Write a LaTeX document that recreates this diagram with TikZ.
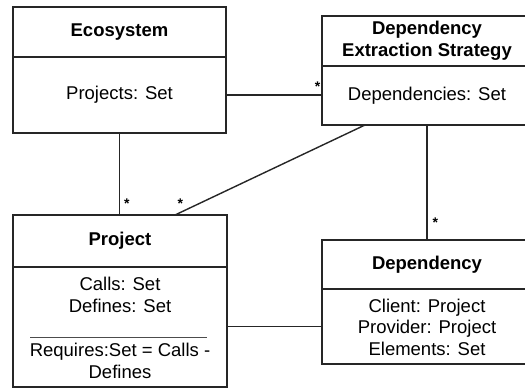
\documentclass[tikz,border=0pt]{standalone}
\usepackage{fontspec}
\setmainfont{Liberation Sans}
\usetikzlibrary{calc}

\begin{document}
\begin{tikzpicture}[x=1pt, y=-1pt,
		head_style/.style={rectangle,draw=black!85,line width=1.4pt,inner sep=0pt,outer sep=0pt,align=center,font=\fontsize{18.5}{22}\selectfont\bfseries},
		body_style/.style={rectangle,draw=black!85,line width=1.4pt,inner sep=0pt,outer sep=0pt,align=center,font=\fontsize{18.5}{21.5}\selectfont},
		text_style/.style={inner sep=0pt,align=center,anchor=base,font=\fontsize{18.5}{21.5}\selectfont},
		star_style/.style={inner sep=0pt,font=\fontsize{14}{14}\selectfont\bfseries},
		edge_style/.style={draw=black!85,line width=1.4pt}]

		\clip (0,0) rectangle (525,389);

		\node[head_style, minimum width=213pt, minimum height=50pt] (eco) at (119.5,32)  {Ecosystem};
		\node[body_style, minimum width=213pt, minimum height=76pt, anchor=north] (ecoAttr) at (eco.south)  {Projects: Set};

		\node[head_style, minimum width=210pt, minimum height=50pt] (des) at (427,41)  {Dependency\\Extraction Strategy};
		\node[body_style, minimum width=210pt, minimum height=59pt, anchor=north] (desAttr) at (des.south)  {Dependencies: Set};

		\node[head_style, minimum width=214pt, minimum height=52pt] (proj) at (120,241)  {Project};
		\node[body_style, minimum width=214pt, minimum height=120pt, anchor=north] (projAttr) at (proj.south)  {};
		% base anchor sits on the last line
		\node[text_style] (projCalls) at (120,312)  {Calls: Set\\Defines: Set};
		\node[text_style] (projReq) at (120,378)  {Requires:Set = Calls -\\Defines};
		\draw[black!70, line width=0.8pt] (30,337) -- (207,337);

		\node[head_style, minimum width=210pt, minimum height=49pt] (dep) at (427,264.5)  {Dependency};
		\node[body_style, minimum width=210pt, minimum height=75pt, anchor=north] (depAttr) at (dep.south)  {};
		\node[text_style] (depList) at (427,355)  {Client: Project\\Provider: Project\\Elements: Set};


		\draw[edge_style]  (ecoAttr.east) -- (ecoAttr.east -| desAttr.west)
			node[star_style, pos=1, anchor=south east, xshift=-1pt, yshift=3pt] {*};
		\draw[edge_style]  (ecoAttr.south) -- (ecoAttr.south |- proj.north)
			node[star_style, pos=1, anchor=south west, xshift=4pt, yshift=6pt] {*};
		\draw[edge_style]  ($(desAttr.south)+(-62,0)$) -- ($(proj.north)+(55,0)$)
			node[star_style, pos=1, anchor=south west, xshift=2pt, yshift=6pt] {*};
		\draw[edge_style]  (desAttr.south) -- (dep.north)
			node[star_style, pos=1, anchor=south west, xshift=5pt, yshift=12pt] {*};
		\draw[edge_style]  (projAttr.east |- depAttr.west) -- (depAttr.west);

\end{tikzpicture}
\end{document}
